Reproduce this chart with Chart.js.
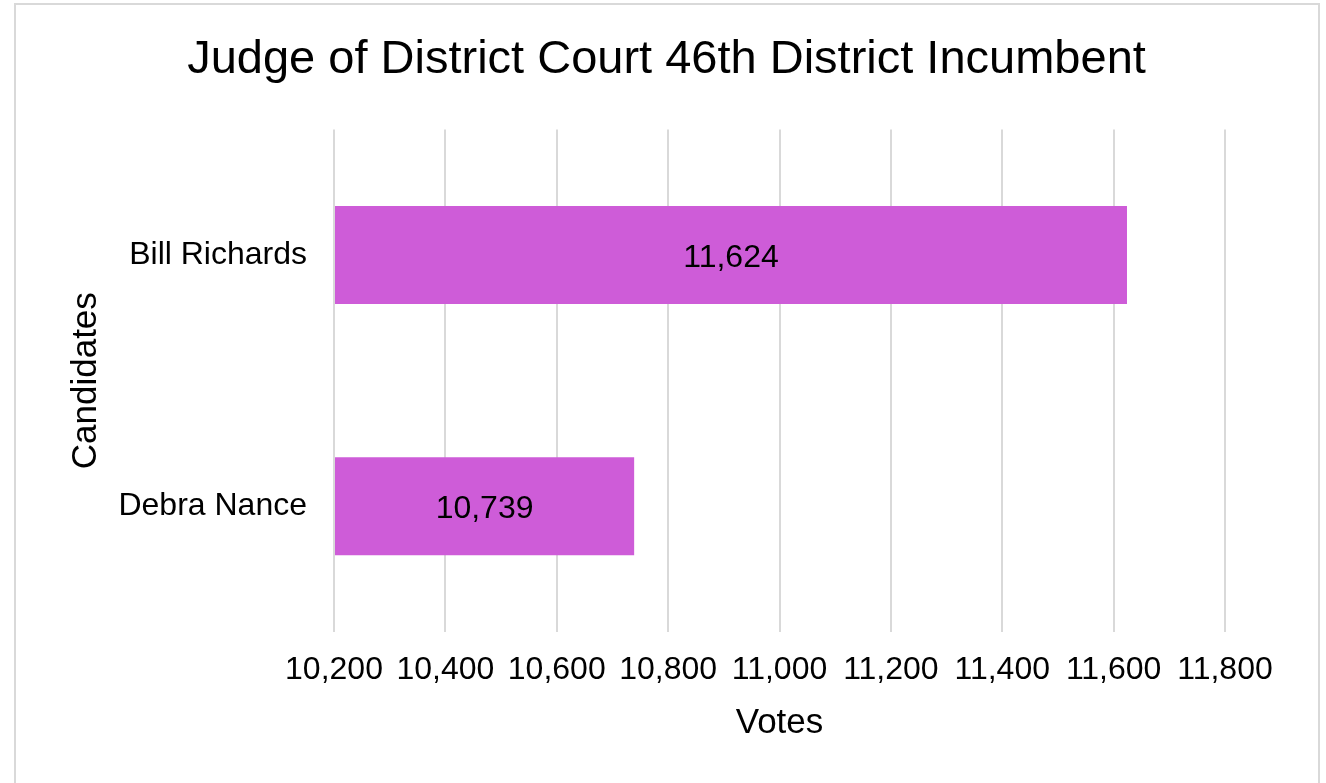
<!DOCTYPE html>
<html>
<head>
<meta charset="utf-8">
<script src="https://cdn.jsdelivr.net/npm/chart.js@4"></script>
<style>
    body { margin: 0; background: #fff; }
    #wrap { position: relative; width: 1326px; height: 783px; overflow: hidden; }
    #frame {
        position: absolute; left: 14px; top: 3px; width: 1306px; height: 800px;
        border: 2px solid #d9d9d9; box-sizing: border-box;
    }
    #chart { position: absolute; left: 0; top: 0; }
</style>
</head>
<body>
<div id="wrap">
    <div id="frame"></div>
    <canvas id="chart" width="1326" height="783"></canvas>
</div>
<script>
const candidates = ['Bill Richards', 'Debra Nance'];
const votes = [11624, 10739];
const axisMin = 10200;
const axisMax = 11800;
const axisStep = 200;

const fontFamily = '"Liberation Sans", Arial, sans-serif';
const textColor = '#000';

// Draw the vote count in the middle of each bar
const barLabels = {
    id: 'barLabels',
    afterDatasetsDraw(chart) {
        const ctx = chart.ctx;
        const meta = chart.getDatasetMeta(0);
        ctx.save();
        ctx.font = '32px ' + fontFamily;
        ctx.fillStyle = textColor;
        ctx.textAlign = 'center';
        ctx.textBaseline = 'middle';
        meta.data.forEach((bar, i) => {
            const start = Math.max(bar.base, chart.chartArea.left);
            ctx.fillText(votes[i].toLocaleString('en-US'), (bar.x + start) / 2, bar.y + 3);
        });
        ctx.restore();
    }
};

new Chart(document.getElementById('chart').getContext('2d'), {
    type: 'bar',
    data: {
        labels: candidates,
        datasets: [{
            data: votes,
            base: axisMin,
            backgroundColor: '#ce5cd8',
            categoryPercentage: 1,
            barPercentage: 0.39
        }]
    },
    plugins: [barLabels],
    options: {
        indexAxis: 'y',
        responsive: false,
        animation: false,
        layout: { padding: { left: 15, right: 8, top: 0, bottom: 0 } },
        plugins: {
            legend: { display: false },
            tooltip: { enabled: false },
            title: {
                display: true,
                text: 'Judge of District Court 46th District Incumbent',
                color: textColor,
                font: { family: fontFamily, size: 47, weight: 'normal' },
                padding: { top: 32, bottom: 41 }
            }
        },
        scales: {
            x: {
                min: axisMin,
                max: axisMax,
                afterFit(scale) {
                    scale.height = 151;
                    scale.paddingRight = 101;
                },
                grid: { color: '#d9d9d9', lineWidth: 2, drawTicks: false },
                border: { display: false },
                ticks: {
                    stepSize: axisStep,
                    padding: 19,
                    color: textColor,
                    font: { family: fontFamily, size: 32 },
                    callback: value => value.toLocaleString('en-US')
                },
                title: {
                    display: true,
                    text: 'Votes',
                    color: textColor,
                    font: { family: fontFamily, size: 35 },
                    padding: { top: 10, bottom: 39 }
                }
            },
            y: {
                afterFit(scale) {
                    scale.width = 319;
                },
                grid: { display: false },
                border: { display: false },
                ticks: {
                    padding: 19,
                    color: textColor,
                    font: { family: fontFamily, size: 32 }
                },
                title: {
                    display: true,
                    text: 'Candidates',
                    color: textColor,
                    font: { family: fontFamily, size: 35 },
                    padding: { top: 50, bottom: 10 }
                }
            }
        }
    }
});
</script>
</body>
</html>
